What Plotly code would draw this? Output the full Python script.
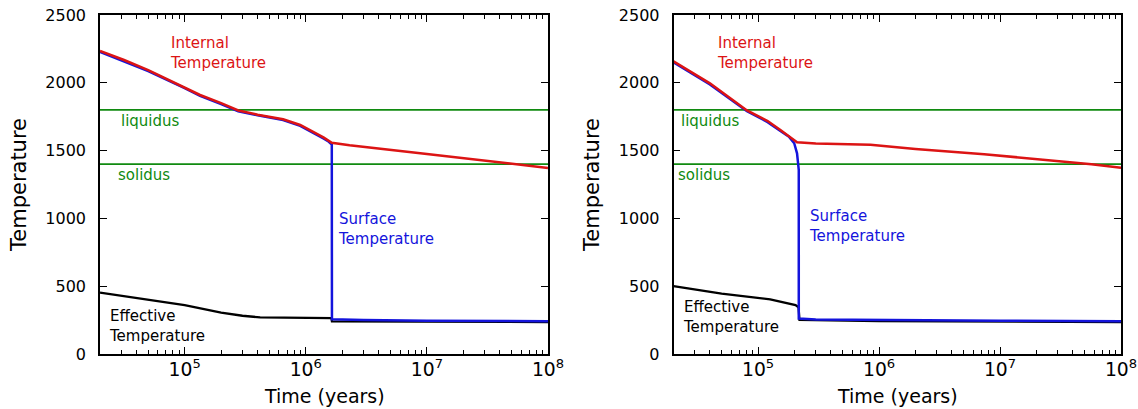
import math
import plotly.graph_objects as go

# ---------------- data ----------------
# Left panel
t_int_L = [2e4, 3.16e4, 5e4, 1e5, 1.34e5, 2e5, 2.77e5, 4e5, 6.5e5, 9e5, 1.23e6, 1.41e6, 1.64e6, 2.3e6, 1e7, 5e7, 1e8]
T_int_L = [2235, 2168, 2094, 1967, 1910, 1850, 1796, 1765, 1731, 1689, 1628, 1596, 1558, 1540, 1475, 1400, 1372]

t_surf_L = [2e4, 3.16e4, 5e4, 1e5, 1.34e5, 2e5, 2.77e5, 4e5, 6.5e5, 9e5, 1.23e6, 1.41e6, 1.55e6, 1.64e6, 1.645e6, 3e6, 1e7, 1e8]
T_surf_L = [2228, 2160, 2087, 1960, 1903, 1843, 1790, 1760, 1726, 1683, 1620, 1588, 1565, 1545, 256, 250, 245, 242]

t_eff_L = [2e4, 5e4, 1e5, 2e5, 3e5, 4.2e5, 1e6, 1.63e6, 1.645e6, 1e7, 1e8]
T_eff_L = [452, 403, 361, 305, 282, 270, 268, 265, 240, 236, 236]

# Right panel
t_int_R = [2e4, 4e4, 8.1e4, 1.2e5, 1.53e5, 2.1e5, 3e5, 8.5e5, 2e6, 7.4e6, 5.7e7, 1e8]
T_int_R = [2158, 1996, 1796, 1718, 1652, 1562, 1552, 1543, 1511, 1473, 1400, 1374]

t_surf_R = [2e4, 4e4, 8.1e4, 1.2e5, 1.53e5, 1.8e5, 1.99e5, 2.1e5, 2.17e5, 2.17e5, 3e5, 1e6, 1e7, 1e8]
T_surf_R = [2150, 1988, 1790, 1710, 1645, 1603, 1554, 1480, 1357, 262, 255, 250, 245, 242]

t_eff_R = [2e4, 5e4, 1.26e5, 2.04e5, 2.16e5, 2.2e5, 1e6, 1e7, 1e8]
T_eff_R = [501, 445, 403, 361, 345, 251, 242, 238, 236]

liquidus = 1800
solidus = 1400
x_range_years = [2e4, 1e8]
y_ticks = [0, 500, 1000, 1500, 2000, 2500]

# ---------------- figure ----------------
W, H = 1138, 409
FONT = "DejaVu Sans"
RED, BLUE, GREEN = "#dc1414", "#1414dc", "#108a10"
fig = go.Figure()


def px(x):
    return x / W


def py(y):
    return 1 - y / H


panels = [
    ("x", "y", t_int_L, T_int_L, t_surf_L, T_surf_L, t_eff_L, T_eff_L),
    ("x2", "y2", t_int_R, T_int_R, t_surf_R, T_surf_R, t_eff_R, T_eff_R),
]

for xa, ya, ti, Ti, ts, Ts, te, Te in panels:
    for lvl in (liquidus, solidus):
        fig.add_trace(go.Scatter(x=x_range_years, y=[lvl, lvl], xaxis=xa, yaxis=ya,
                                 mode="lines", line=dict(color=GREEN, width=1.6),
                                 showlegend=False, hoverinfo="skip"))
    fig.add_trace(go.Scatter(x=te, y=Te, xaxis=xa, yaxis=ya, mode="lines",
                             line=dict(color="black", width=2.3), showlegend=False))
    fig.add_trace(go.Scatter(x=ts, y=Ts, xaxis=xa, yaxis=ya, mode="lines",
                             line=dict(color=BLUE, width=2.5), showlegend=False))
    fig.add_trace(go.Scatter(x=ti, y=Ti, xaxis=xa, yaxis=ya, mode="lines",
                             line=dict(color=RED, width=2.5), showlegend=False))

xr = [math.log10(x_range_years[0]), math.log10(x_range_years[1])]
ydom = [py(354), py(15)]

common_x = dict(type="log", range=xr, dtick=1, exponentformat="power",
                showline=True, linecolor="black", linewidth=1.5, mirror="ticks",
                ticks="inside", ticklen=7, tickwidth=1.2, tickcolor="black",
                showgrid=False, zeroline=False, automargin=False,
                ticklabelstandoff=-2,
                tickfont=dict(family=FONT, size=15, color="black"),
                minor=dict(ticks="inside", ticklen=4, tickwidth=1, tickcolor="black",
                           dtick="D1", showgrid=False))
common_y = dict(range=[0, 2500], tickvals=y_ticks,
                showline=True, linecolor="black", linewidth=1.5, mirror="ticks",
                ticks="inside", ticklen=7, tickwidth=1.2, tickcolor="black",
                showgrid=False, zeroline=False, domain=ydom, automargin=False,
                ticklabelstandoff=9,
                tickfont=dict(family=FONT, size=16, color="black"))

fig.update_layout(
    template="none",
    width=W, height=H,
    margin=dict(l=0, r=0, t=0, b=0, pad=0),
    plot_bgcolor="white", paper_bgcolor="white",
    font=dict(family=FONT, color="black"),
    xaxis=dict(common_x, domain=[px(100), px(548)], anchor="y"),
    yaxis=dict(common_y, anchor="x"),
    xaxis2=dict(common_x, domain=[px(673.5), px(1121)], anchor="y2"),
    yaxis2=dict(common_y, anchor="x2"),
)


def label(x, y, text, color, size=15, angle=0, xanchor="left"):
    fig.add_annotation(x=px(x), y=py(y), xref="paper", yref="paper", text=text,
                       showarrow=False, xanchor=xanchor, yanchor="middle", align="left",
                       textangle=angle,
                       font=dict(family=FONT, size=size, color=color))


# axis titles
label(324, 396, "Time (years)", "black", size=19, xanchor="center")
label(897, 396, "Time (years)", "black", size=19, xanchor="center")
label(19, 185, "Temperature", "black", size=21, angle=-90, xanchor="center")
label(592, 185, "Temperature", "black", size=21, angle=-90, xanchor="center")

# left panel labels
label(168, 53, "Internal<br>Temperature", RED)
label(119, 121, "liquidus", GREEN)
label(116, 175, "solidus", GREEN)
label(336, 229, "Surface<br>Temperature", BLUE)
label(107, 326, "Effective<br>Temperature", "black")
# right panel labels
label(715, 53, "Internal<br>Temperature", RED)
label(679, 121, "liquidus", GREEN)
label(676, 175, "solidus", GREEN)
label(807, 226, "Surface<br>Temperature", BLUE)
label(681, 317, "Effective<br>Temperature", "black")

fig.write_html("out.html")
